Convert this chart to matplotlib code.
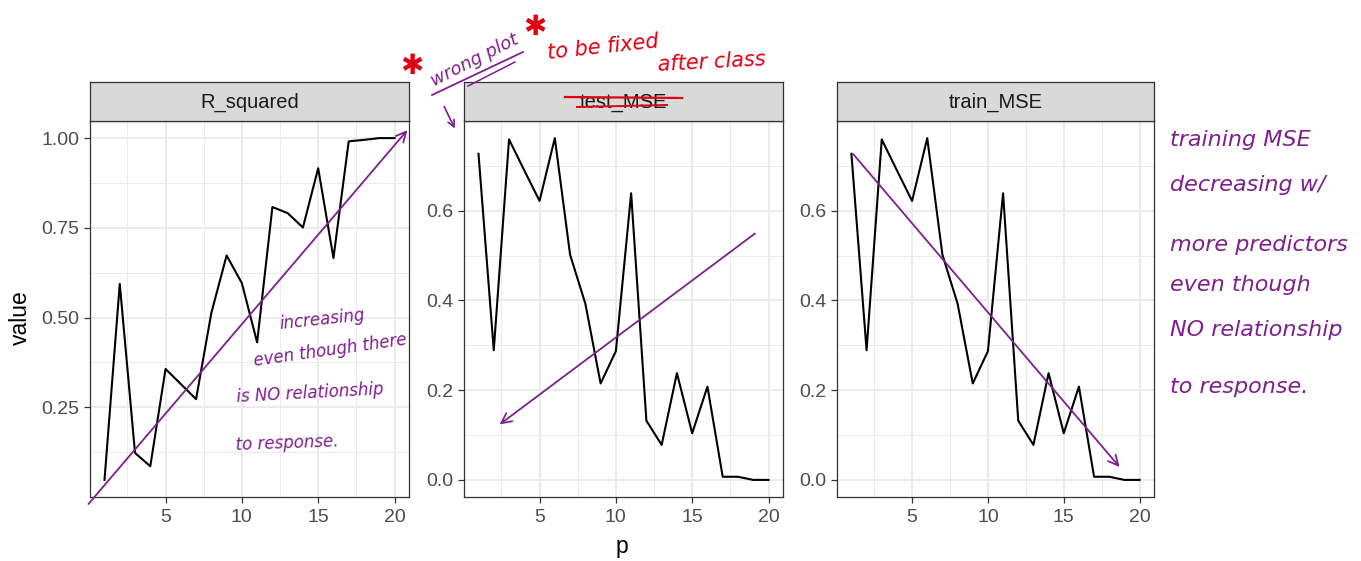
import matplotlib
matplotlib.use("Agg")
import matplotlib.pyplot as plt
import numpy as np

p = list(range(1, 21))

r_squared = [0.048, 0.594, 0.123, 0.086, 0.357, 0.315, 0.273, 0.513, 0.673, 0.596,
             0.431, 0.808, 0.791, 0.751, 0.916, 0.666, 0.991, 0.995, 1.000, 1.000]

test_mse = [0.727, 0.289, 0.759, 0.690, 0.622, 0.762, 0.502, 0.393, 0.215, 0.287,
            0.639, 0.132, 0.078, 0.238, 0.104, 0.208, 0.007, 0.007, 0.000, 0.000]

# same numbers ended up in both MSE panels (hence the "wrong plot" note)
train_mse = list(test_mse)

panel_names = ["R_squared", "test_MSE", "train_MSE"]
panel_values = [r_squared, test_mse, train_mse]

x_ticks = [5, 10, 15, 20]
y_ticks_r2 = [0.25, 0.50, 0.75, 1.00]
y_labels_r2 = ["0.25", "0.50", "0.75", "1.00"]
y_ticks_mse = [0.0, 0.2, 0.4, 0.6]
y_labels_mse = ["0.0", "0.2", "0.4", "0.6"]

PURPLE = "#7E1F8E"
RED = "#E00012"
GREY20 = "#333333"
GREY30 = "#4D4D4D"
HAND = dict(family="DejaVu Sans", style="italic", fontweight="light")

plt.rcParams["font.family"] = ["Liberation Sans", "DejaVu Sans"]

W, H = 1361, 561
fig = plt.figure(figsize=(W / 100, H / 100), dpi=100)


def fx(px):
    return px / W


def fy(py):
    return 1 - py / H


panel_left = [90, 464, 837]
panel_width = [319, 319, 317]
panel_top, panel_bottom, strip_top = 121, 497, 82

axes = []
for i, name in enumerate(panel_names):
    left = panel_left[i]
    ax = fig.add_axes([fx(left), fy(panel_bottom), panel_width[i] / W,
                       (panel_bottom - panel_top) / H])
    vals = panel_values[i]
    ax.plot(p, vals, color="black", lw=1.5, zorder=3)

    lo, hi = min(vals), max(vals)
    pad = (hi - lo) * 0.05
    ax.set_ylim(lo - pad, hi + pad)
    ax.set_xlim(1 - 0.95, 20 + 0.95)

    ax.set_xticks(x_ticks)
    ax.set_xticks([2.5, 7.5, 12.5, 17.5], minor=True)
    if i == 0:
        ax.set_yticks(y_ticks_r2, y_labels_r2)
        ax.set_yticks([0.125, 0.375, 0.625, 0.875], minor=True)
    else:
        ax.set_yticks(y_ticks_mse, y_labels_mse)
        ax.set_yticks([0.1, 0.3, 0.5, 0.7], minor=True)

    ax.grid(which="major", color="#EBEBEB", lw=1.4, zorder=0)
    ax.grid(which="minor", color="#EBEBEB", lw=0.7, zorder=0)
    ax.set_axisbelow(True)
    ax.tick_params(which="major", length=4.5, width=0.9, color=GREY20,
                   labelsize=14, labelcolor=GREY30, pad=3)
    ax.tick_params(axis="x", which="major", pad=4.5)
    ax.tick_params(which="minor", length=0)
    for s in ax.spines.values():
        s.set_color(GREY20)
        s.set_linewidth(0.9)

    # facet strip
    sax = fig.add_axes([fx(left), fy(panel_top), panel_width[i] / W,
                        (panel_top - strip_top) / H])
    sax.set_facecolor("#D9D9D9")
    sax.set_xticks([])
    sax.set_yticks([])
    for s in sax.spines.values():
        s.set_color(GREY20)
        s.set_linewidth(0.9)
    sax.text(0.5, 0.47, name, ha="center", va="center", fontsize=14.5,
             color="#1A1A1A", transform=sax.transAxes)
    axes.append(ax)

fig.text(fx(20), fy(318), "value", rotation=90, ha="center", va="center", fontsize=16.5)
fig.text(fx(622), fy(547), "p", ha="center", va="center", fontsize=16.5)

# ---- handwritten notes ----
arrow_kw = dict(arrowstyle="->", color=PURPLE, lw=1.3, mutation_scale=18)

axes[0].annotate("", xy=(20.96, 1.028), xytext=(-0.17, -0.025),
                 arrowprops=arrow_kw, annotation_clip=False)
axes[1].annotate("", xy=(2.24, 0.12), xytext=(19.26, 0.553),
                 arrowprops=arrow_kw, annotation_clip=False)
axes[2].annotate("", xy=(18.8, 0.024), xytext=(1.0, 0.731),
                 arrowprops=arrow_kw, annotation_clip=False)

notes_r2 = [("increasing", 322, 320, 6), ("even though there", 330, 350, 8),
            ("is NO relationship", 310, 393, 3), ("to response.", 287, 443, 2)]
for txt, x, y, rot in notes_r2:
    fig.text(fx(x), fy(y), txt, ha="center", va="center", fontsize=12,
             color=PURPLE, rotation=rot, **HAND)

notes_train = [("training MSE", 140), ("decreasing w/", 185), ("more predictors", 245),
               ("even though", 285), ("NO relationship", 330), ("to response.", 387)]
for txt, y in notes_train:
    fig.text(fx(1170), fy(y), txt, ha="left", va="center", fontsize=16,
             color=PURPLE, **HAND)

fig.text(fx(475), fy(60), "wrong plot", ha="center", va="center", fontsize=13,
         color=PURPLE, rotation=27, **HAND)
fig.add_artist(plt.Line2D([fx(432), fx(523)], [fy(95), fy(52)], color=PURPLE, lw=1.3))
fig.add_artist(plt.Line2D([fx(468), fx(515)], [fy(86), fy(62)], color=PURPLE, lw=1.1))
fig.add_artist(matplotlib.patches.FancyArrowPatch(
    (fx(443), fy(104)), (fx(456), fy(131)), transform=fig.transFigure,
    arrowstyle="->", color=PURPLE, lw=1.2, mutation_scale=12))

for x, y in [(412, 66), (535, 27)]:
    fig.text(fx(x), fy(y), "\u2731", ha="center", va="center", fontsize=20,
             color=RED, family="DejaVu Sans")
fig.text(fx(603), fy(47), "to be fixed", ha="center", va="center", fontsize=15,
         color=RED, rotation=6, **HAND)
fig.text(fx(712), fy(62), "after class", ha="center", va="center", fontsize=15,
         color=RED, rotation=3, **HAND)

# strike-through on the test_MSE strip
fig.add_artist(plt.Line2D([fx(565), fx(682)], [fy(97), fy(98)], color=RED, lw=1.6))
fig.add_artist(plt.Line2D([fx(577), fx(667)], [fy(107), fy(105)], color=RED, lw=1.4))

fig.savefig("out.png", dpi=100)
